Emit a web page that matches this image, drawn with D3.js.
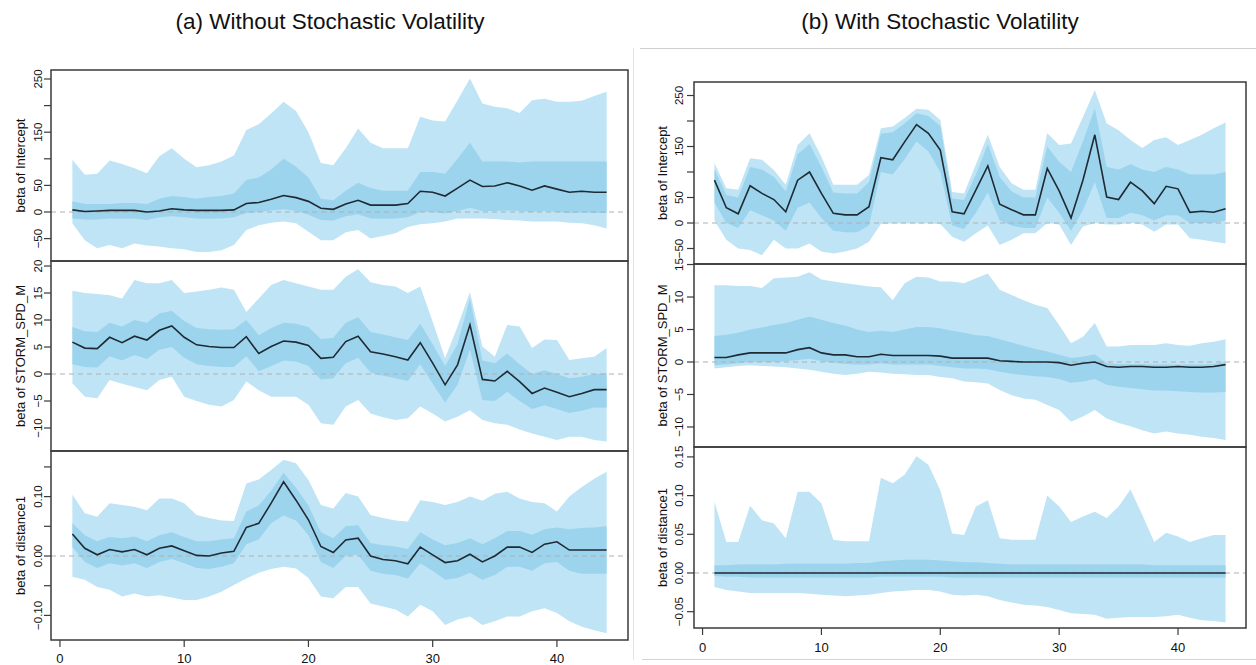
<!DOCTYPE html>
<html><head><meta charset="utf-8">
<script src="https://cdn.jsdelivr.net/npm/d3@7"></script>
<style>body{margin:0;background:#fff}svg{display:block}text{font-family:"Liberation Sans",Arial,sans-serif;fill:#111}</style>
</head><body><svg id="c" width="1256" height="665"></svg>
<script>
// ---------- data ----------
const periods = [1,2,3,4,5,6,7,8,9,10,11,12,13,14,15,16,17,18,19,20,21,22,23,24,25,26,27,28,29,30,31,32,33,34,35,36,37,38,39,40,41,42,43,44];
const xTicks = [0,10,20,30,40];
const titles = ["(a) Without Stochastic Volatility", "(b) With Stochastic Volatility"];
const varLabels = ["beta of Intercept", "beta of STORM_SPD_M", "beta of distance1"];

// (a) no SV — Intercept
const aIntMid = [4,1,2,3,3,3,0,2,6,4,3,3,3,4,16,18,24,31,27,20,7,5,15,22,13,13,13,16,39,37,30,45,60,48,49,55,49,41,49,43,37,39,37,37];
const aIntHi  = [98,70,72,97,90,82,73,105,120,100,84,88,95,106,154,165,185,207,190,150,92,88,120,157,130,120,120,120,179,172,170,210,251,204,198,195,186,210,213,207,207,209,218,226];
const aIntLo  = [-21,-53,-68,-62,-68,-59,-63,-65,-68,-70,-75,-75,-72,-62,-34,-25,-20,-18,-21,-37,-53,-53,-38,-34,-50,-45,-40,-28,-23,-21,-18,-12,-12,-12,-13,-15,-16,-18,-18,-18,-20,-21,-25,-31];
const aIntIHi = [20,15,15,15,17,17,15,25,30,28,25,28,30,35,60,65,80,100,85,65,25,22,40,55,45,40,40,40,75,75,72,100,130,95,95,95,93,95,95,95,95,95,95,95];
const aIntILo = [-12,-14,-14,-12,-12,-12,-15,-10,-8,-10,-12,-12,-12,-10,-2,0,3,5,2,-5,-15,-16,-8,-4,-12,-12,-12,-10,0,0,-3,2,8,2,2,3,2,0,2,0,-2,-1,-2,-2];
// (a) no SV — STORM_SPD_M
const aSpdMid = [5.9,4.8,4.7,6.8,5.8,7.0,6.3,8.1,8.9,6.8,5.4,5.1,4.9,4.9,6.9,3.8,5.1,6.1,5.9,5.3,2.9,3.1,6.0,7.0,4.1,3.7,3.2,2.6,5.8,2.0,-2.0,1.7,9.1,-1.0,-1.3,0.5,-1.4,-3.6,-2.6,-3.4,-4.2,-3.6,-2.9,-2.9];
const aSpdHi  = [15.4,15.0,14.8,14.6,14.0,17.4,16.8,16.8,17.4,15.0,15.3,15.6,16.0,15.6,11.5,14.0,16.5,17.4,16.8,16.2,15.6,15.6,18.0,19.4,17.0,16.5,16.2,15.0,16.2,9.7,2.9,8.8,15.2,5.1,3.2,9.1,8.8,4.8,6.4,6.3,2.6,2.9,3.2,4.8];
const aSpdLo  = [-1.7,-4.2,-4.5,-1.1,-1.8,-2.4,-3.0,-1.1,-0.5,-4.2,-5.0,-5.7,-6.0,-4.8,-1.4,-3.0,-4.2,-4.2,-4.2,-5.7,-9.1,-9.4,-6.0,-4.8,-7.3,-8.0,-8.5,-8.2,-6.0,-7.3,-8.8,-7.9,-6.7,-8.5,-9.1,-9.4,-10.3,-11.0,-11.6,-12.2,-11.6,-11.6,-12.2,-12.5];
const aSpdIHi = [8.7,7.9,7.8,9.5,8.8,10.0,9.5,11.2,11.7,9.8,8.5,8.3,8.2,8.3,10.0,7.2,8.5,9.5,9.3,8.7,6.5,6.7,9.5,10.5,7.8,7.3,6.8,6.3,9.3,5.5,1.5,5.5,14.0,2.5,2.0,3.8,1.8,0.0,0.7,0.0,-0.8,-0.5,0.0,0.2];
const aSpdILo = [1.8,1.3,1.2,3.3,2.5,3.5,2.8,4.5,5.0,3.0,1.8,1.5,1.3,1.3,3.3,0.5,1.5,2.5,2.3,1.5,-1.0,-0.8,2.0,3.0,0.3,-0.3,-0.8,-1.3,1.8,-1.8,-5.3,-2.0,4.5,-4.8,-5.0,-3.3,-5.0,-6.5,-5.8,-6.5,-7.2,-6.8,-6.2,-6.2];
// (a) no SV — distance1
const aDisMid = [0.037,0.013,0.002,0.011,0.007,0.011,0.002,0.013,0.017,0.009,0.001,0.000,0.005,0.008,0.048,0.055,0.089,0.125,0.094,0.061,0.016,0.006,0.027,0.030,0.000,-0.006,-0.008,-0.013,0.015,0.002,-0.011,-0.008,0.003,-0.010,0.000,0.015,0.015,0.006,0.020,0.024,0.010,0.010,0.010,0.010];
const aDisHi  = [0.103,0.072,0.066,0.089,0.086,0.083,0.077,0.097,0.097,0.089,0.069,0.064,0.060,0.059,0.122,0.129,0.145,0.162,0.156,0.128,0.086,0.080,0.106,0.100,0.069,0.064,0.060,0.058,0.094,0.091,0.086,0.091,0.100,0.093,0.105,0.108,0.097,0.091,0.089,0.075,0.100,0.116,0.130,0.142];
const aDisLo  = [-0.035,-0.040,-0.052,-0.057,-0.068,-0.063,-0.068,-0.066,-0.070,-0.074,-0.074,-0.068,-0.060,-0.049,-0.038,-0.028,-0.022,-0.018,-0.021,-0.037,-0.068,-0.071,-0.052,-0.052,-0.080,-0.085,-0.090,-0.102,-0.082,-0.093,-0.116,-0.107,-0.102,-0.116,-0.110,-0.102,-0.102,-0.093,-0.088,-0.096,-0.110,-0.119,-0.125,-0.130];
const aDisIHi = [0.055,0.035,0.025,0.032,0.030,0.033,0.025,0.035,0.040,0.032,0.025,0.025,0.028,0.030,0.075,0.085,0.110,0.140,0.115,0.085,0.040,0.030,0.050,0.052,0.022,0.018,0.016,0.012,0.040,0.028,0.018,0.022,0.030,0.020,0.030,0.042,0.042,0.036,0.045,0.048,0.045,0.047,0.048,0.050];
const aDisILo = [0.015,-0.010,-0.020,-0.012,-0.016,-0.012,-0.020,-0.010,-0.005,-0.012,-0.020,-0.022,-0.018,-0.012,0.020,0.028,0.055,0.068,0.060,0.035,-0.010,-0.020,0.000,0.002,-0.025,-0.030,-0.032,-0.038,-0.012,-0.025,-0.040,-0.037,-0.028,-0.040,-0.032,-0.018,-0.018,-0.025,-0.012,-0.010,-0.025,-0.030,-0.030,-0.030];

// (b) SV — Intercept
const bIntMid = [84,30,18,73,58,46,22,84,100,58,19,16,16,32,128,124,159,193,176,143,22,18,65,112,37,26,16,16,107,63,10,84,173,51,46,80,63,38,72,67,21,23,21,28];
const bIntHi  = [117,68,65,127,124,104,75,153,176,130,75,75,75,94,186,189,206,224,222,202,61,58,115,173,110,78,65,65,176,153,156,208,261,195,182,163,147,163,168,153,163,173,186,197];
const bIntLo  = [5,-33,-50,-53,-63,-33,-50,-50,-40,-56,-60,-56,-50,-37,-2,-1,-1,-1,-1,-2,-27,-37,-20,-5,-43,-33,-20,-20,0,-3,-43,-7,0,-3,-3,0,-3,-17,-3,-3,-30,-33,-37,-40];
const bIntIHi = [105,55,50,110,105,90,62,135,155,110,60,58,58,80,175,178,195,215,210,190,48,45,95,155,90,62,50,50,150,120,100,160,225,110,105,115,105,100,110,105,95,95,95,100];
const bIntILo = [40,0,-10,25,15,5,-15,30,40,10,-15,-18,-18,-5,100,95,125,160,140,100,-5,-12,20,60,5,-5,-10,-10,50,20,-15,25,80,10,10,20,15,5,15,15,0,0,0,5];
// (b) SV — STORM_SPD_M
const bSpdMid = [0.7,0.7,1.1,1.4,1.4,1.4,1.4,1.9,2.2,1.4,1.1,1.1,0.8,0.8,1.2,1.0,1.0,1.0,1.0,0.9,0.6,0.6,0.6,0.6,0.2,0.1,0.0,0.0,0.0,-0.1,-0.5,-0.2,0.0,-0.7,-0.8,-0.7,-0.7,-0.8,-0.8,-0.7,-0.8,-0.8,-0.7,-0.4];
const bSpdHi  = [11.8,11.8,11.7,11.7,11.4,12.9,13.0,13.1,13.8,12.7,12.4,12.1,11.9,11.6,11.5,9.5,12.1,13.1,13.0,12.4,12.4,12.1,12.9,13.6,11.1,10.3,9.5,8.8,8.3,5.7,2.9,3.9,6.0,2.4,2.4,2.6,2.6,2.6,2.9,2.6,2.5,2.9,3.1,3.5];
const bSpdLo  = [-1.0,-0.8,-0.6,-0.5,-0.6,-0.7,-0.8,-1.0,-1.2,-1.5,-1.8,-2.0,-1.8,-1.5,-1.6,-1.8,-1.9,-2.0,-2.0,-2.3,-2.5,-3.0,-3.1,-3.3,-4.3,-5.1,-5.6,-5.8,-6.6,-7.4,-9.2,-8.4,-7.4,-8.7,-9.4,-9.9,-10.5,-11.0,-10.7,-11.0,-11.2,-11.5,-11.7,-12.0];
const bSpdIHi = [4.0,4.2,4.5,5.0,5.3,5.7,6.0,6.5,7.0,6.5,6.0,5.6,5.0,4.6,4.8,4.6,5.0,5.4,5.4,5.2,4.8,4.5,4.1,4.0,3.5,3.0,2.5,2.0,1.6,1.1,0.6,0.8,1.2,-0.2,-0.3,-0.3,-0.3,-0.4,-0.4,-0.4,-0.4,-0.4,-0.3,0.0];
const bSpdILo = [-0.5,-0.4,-0.2,0.0,0.0,0.0,0.1,0.3,0.5,0.1,-0.1,-0.3,-0.4,-0.4,-0.2,-0.4,-0.4,-0.4,-0.4,-0.6,-0.8,-1.0,-1.0,-1.1,-1.5,-1.8,-2.0,-2.2,-2.3,-2.6,-3.2,-3.0,-2.6,-3.5,-3.8,-4.0,-4.2,-4.4,-4.4,-4.5,-4.6,-4.7,-4.7,-4.6];
// (b) SV — distance1
const bDisMid = [0,0,0,0,0,0,0,0,0,0,0,0,0,0,0,0,0,0,0,0,0,0,0,0,0,0,0,0,0,0,0,0,0,0,0,0,0,0,0,0,0,0,0,0];
const bDisHi  = [0.092,0.040,0.040,0.087,0.068,0.064,0.045,0.105,0.105,0.090,0.043,0.041,0.041,0.041,0.123,0.116,0.127,0.151,0.140,0.107,0.051,0.049,0.086,0.094,0.045,0.043,0.043,0.043,0.100,0.086,0.066,0.073,0.079,0.071,0.086,0.108,0.075,0.040,0.052,0.047,0.040,0.045,0.049,0.049];
const bDisLo  = [-0.018,-0.022,-0.024,-0.026,-0.026,-0.026,-0.026,-0.026,-0.027,-0.028,-0.029,-0.030,-0.029,-0.028,-0.026,-0.024,-0.023,-0.022,-0.022,-0.024,-0.028,-0.029,-0.028,-0.030,-0.035,-0.038,-0.041,-0.042,-0.044,-0.048,-0.052,-0.053,-0.054,-0.059,-0.058,-0.057,-0.057,-0.057,-0.056,-0.054,-0.058,-0.061,-0.062,-0.064];
const bDisIHi = [0.010,0.010,0.011,0.011,0.011,0.011,0.012,0.012,0.012,0.012,0.012,0.012,0.013,0.013,0.015,0.016,0.017,0.017,0.017,0.016,0.015,0.014,0.014,0.013,0.012,0.011,0.011,0.011,0.011,0.011,0.011,0.011,0.011,0.011,0.011,0.011,0.011,0.010,0.010,0.010,0.010,0.010,0.010,0.010];
const bDisILo = [-0.004,-0.005,-0.005,-0.006,-0.006,-0.006,-0.006,-0.006,-0.006,-0.006,-0.006,-0.006,-0.006,-0.006,-0.005,-0.005,-0.005,-0.005,-0.005,-0.005,-0.006,-0.006,-0.006,-0.006,-0.006,-0.006,-0.006,-0.006,-0.006,-0.006,-0.006,-0.006,-0.006,-0.006,-0.006,-0.006,-0.006,-0.006,-0.006,-0.006,-0.006,-0.006,-0.006,-0.006];

// tick values / labels per panel
const aIntTicks = [-50,0,50,100,150,200,250],  aIntLabels = [-50,0,50,150,250];
const aSpdTicks = [-10,-5,0,5,10,15,20],       aSpdLabels = [-10,-5,0,5,10,15,20];
const aDisTicks = [-0.10,-0.05,0,0.05,0.10,0.15], aDisLabels = [-0.10,0,0.10];
const bIntTicks = [-50,0,50,100,150,200,250],  bIntLabels = [-50,0,50,150,250];
const bSpdTicks = [-10,-5,0,5,10,15],          bSpdLabels = [-10,-5,0,5,10,15];
const bDisTicks = [-0.05,0,0.05,0.10,0.15],    bDisLabels = [-0.05,0,0.05,0.10,0.15];

// ---------- layout ----------
const sides = [
  {title: titles[0], tx: 330, x0: 51, x1: 628, tops: [70,261,451,640], tickLblX: 42, axLblX: 25, xLblY: 663,
   panels: [
     {dom:[-92.1,266.9], mid:aIntMid, hi:aIntHi, lo:aIntLo, ihi:aIntIHi, ilo:aIntILo, ticks:aIntTicks, labels:aIntLabels, fmt:d3.format("d")},
     {dom:[-14.26,20.93], mid:aSpdMid, hi:aSpdHi, lo:aSpdLo, ihi:aSpdIHi, ilo:aSpdILo, ticks:aSpdTicks, labels:aSpdLabels, fmt:d3.format("d")},
     {dom:[-0.1414,0.1768], mid:aDisMid, hi:aDisHi, lo:aDisLo, ihi:aDisIHi, ilo:aDisILo, ticks:aDisTicks, labels:aDisLabels, fmt:d3.format(".2f")}
   ]},
  {title: titles[1], tx: 940, x0: 694, x1: 1246, tops: [82,264,447,628], tickLblX: 683, axLblX: 667, xLblY: 652,
   panels: [
     {dom:[-80.4,276.5], mid:bIntMid, hi:bIntHi, lo:bIntLo, ihi:bIntIHi, ilo:bIntILo, ticks:bIntTicks, labels:bIntLabels, fmt:d3.format("d")},
     {dom:[-13.08,15.08], mid:bSpdMid, hi:bSpdHi, lo:bSpdLo, ihi:bSpdIHi, ilo:bSpdILo, ticks:bSpdTicks, labels:bSpdLabels, fmt:d3.format("d")},
     {dom:[-0.0711,0.1628], mid:bDisMid, hi:bDisHi, lo:bDisLo, ihi:bDisIHi, ilo:bDisILo, ticks:bDisTicks, labels:bDisLabels, fmt:d3.format(".2f")}
   ]}
];

const svg = d3.select("#c");
const defs = svg.append("defs");
const OUTER = "#bfe4f5", INNER = "#95d1ec", LINE = "#1f2a33", BOX = "#3a3a3a";

// faint frame of the second picture
svg.append("line").attr("x1",640).attr("x2",1256).attr("y1",48.5).attr("y2",48.5).attr("stroke","#cfcfcf");
svg.append("line").attr("x1",633.5).attr("x2",633.5).attr("y1",48).attr("y2",660).attr("stroke","#e4e4e4");
svg.append("line").attr("x1",642).attr("x2",1256).attr("y1",659.5).attr("y2",659.5).attr("stroke","#d4d4d4");

sides.forEach((s, si) => {
  const g = svg.append("g");
  g.append("text").attr("x", s.tx).attr("y", 29).attr("text-anchor","middle")
    .style("font-size","22.5px").text(s.title);
  const x = d3.scaleLinear().domain([-0.72, 45.72]).range([s.x0, s.x1]);

  s.panels.forEach((p, pi) => {
    const top = s.tops[pi], bot = s.tops[pi+1];
    const y = d3.scaleLinear().domain(p.dom).range([bot, top]);
    const id = `clip${si}${pi}`;
    defs.append("clipPath").attr("id", id).append("rect")
      .attr("x", s.x0).attr("y", top).attr("width", s.x1 - s.x0).attr("height", bot - top);
    const pg = g.append("g").attr("clip-path", `url(#${id})`);
    const rows = periods.map((t, i) => ({t, mid:p.mid[i], hi:p.hi[i], lo:p.lo[i], ihi:p.ihi[i], ilo:p.ilo[i]}));
    pg.append("path").datum(rows).attr("fill", OUTER)
      .attr("d", d3.area().x(d => x(d.t)).y0(d => y(d.lo)).y1(d => y(d.hi)));
    pg.append("path").datum(rows).attr("fill", INNER).attr("opacity", 0.85)
      .attr("d", d3.area().x(d => x(d.t)).y0(d => y(d.ilo)).y1(d => y(d.ihi)));
    pg.append("line").attr("x1", s.x0).attr("x2", s.x1).attr("y1", y(0)).attr("y2", y(0))
      .attr("stroke", "#b0b0b0").attr("stroke-dasharray", "5,4").attr("stroke-width", 1);
    pg.append("path").datum(rows).attr("fill","none").attr("stroke", LINE).attr("stroke-width", 1.6)
      .attr("d", d3.line().x(d => x(d.t)).y(d => y(d.mid)));

    // y axis ticks
    const ax = g.append("g");
    ax.selectAll("line.t").data(p.ticks).join("line")
      .attr("x1", s.x0 - 7).attr("x2", s.x0).attr("y1", d => y(d)).attr("y2", d => y(d))
      .attr("stroke", BOX).attr("stroke-width", 1.2);
    ax.selectAll("text").data(p.labels).join("text")
      .attr("transform", d => `translate(${s.tickLblX},${y(d)}) rotate(-90)`)
      .attr("text-anchor","middle").style("font-size","11.5px")
      .text(d => p.fmt(d));
    g.append("text")
      .attr("transform", `translate(${s.axLblX},${(top+bot)/2}) rotate(-90)`)
      .attr("text-anchor","middle").style("font-size","13px").text(varLabels[pi]);
    // panel box
    g.append("rect").attr("x", s.x0).attr("y", top).attr("width", s.x1 - s.x0).attr("height", bot - top)
      .attr("fill","none").attr("stroke", BOX).attr("stroke-width", 1.5);
  });

  // x axis
  const b = s.tops[3];
  const xa = g.append("g");
  xa.selectAll("line").data(xTicks).join("line")
    .attr("x1", d => x(d)).attr("x2", d => x(d)).attr("y1", b).attr("y2", b + 7)
    .attr("stroke", BOX).attr("stroke-width", 1.2);
  xa.selectAll("text").data(xTicks).join("text")
    .attr("x", d => x(d)).attr("y", s.xLblY).attr("text-anchor","middle").style("font-size","13px")
    .text(d => d);
});
</script></body></html>
